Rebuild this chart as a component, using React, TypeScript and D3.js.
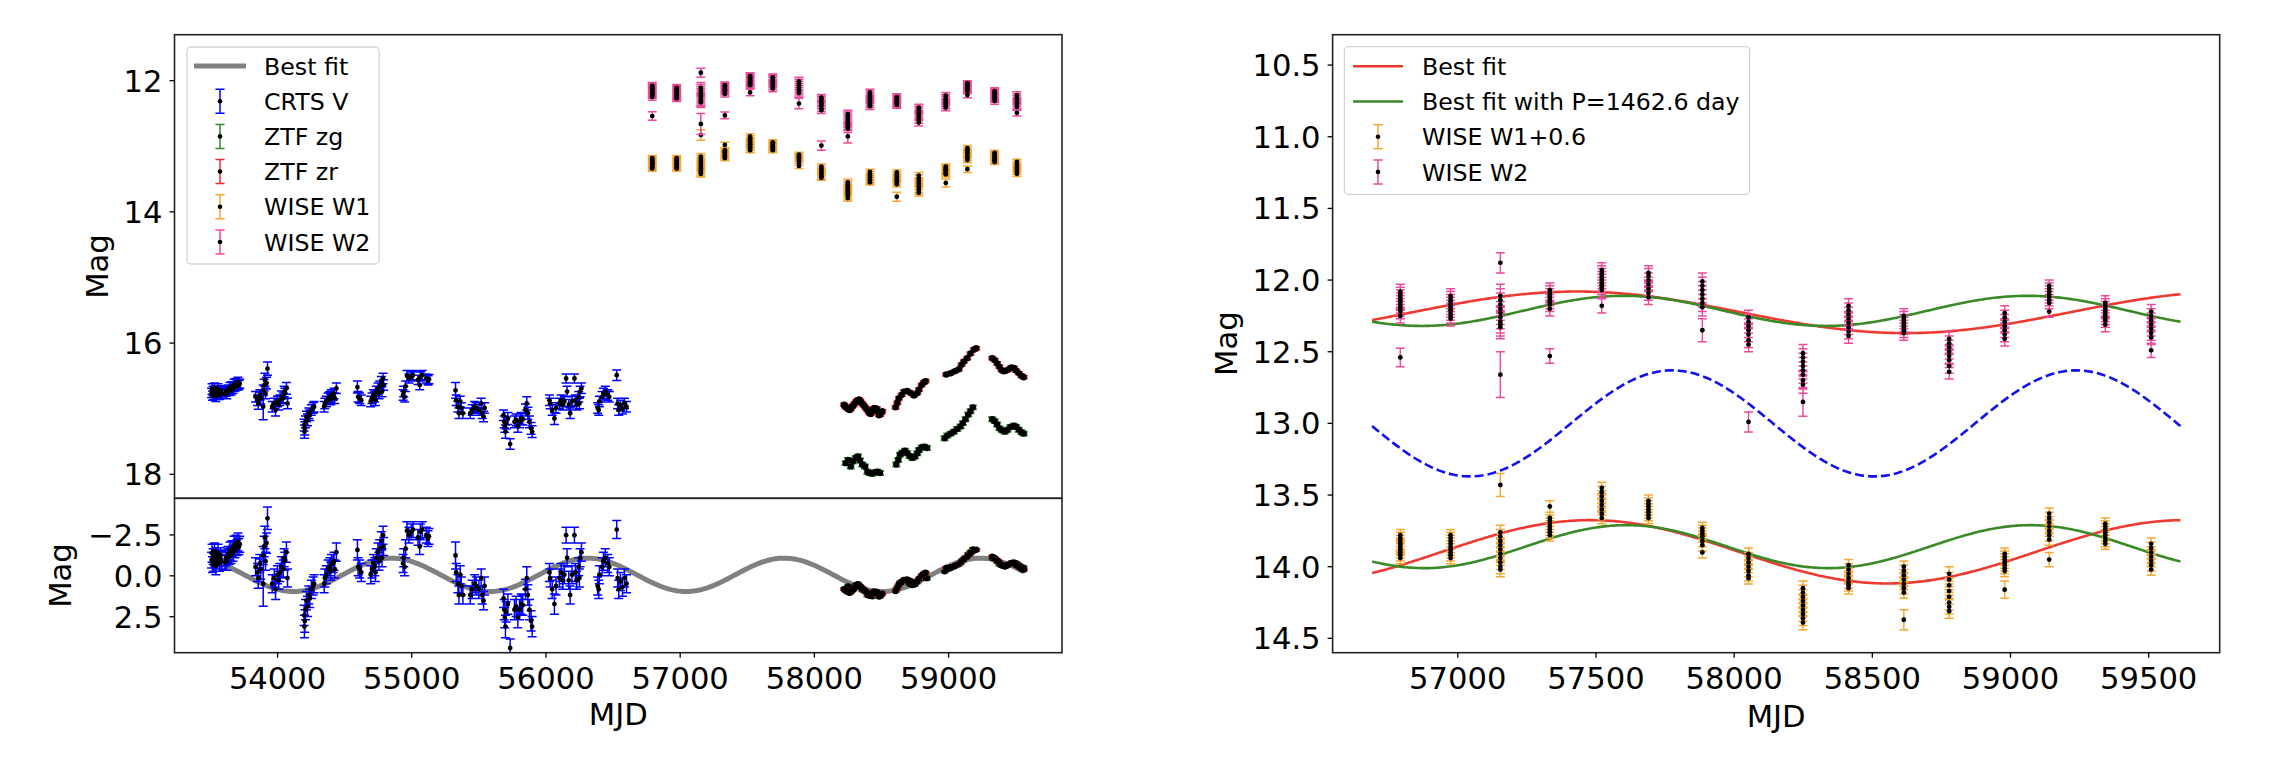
import React from "react";
import * as d3 from "d3";

type Pt = [number, number, number]; // MJD, mag, err
type Epoch = [number, number[], number]; // MJD, mags, err

// ---------------- DATA ----------------
const CRTS_V: Pt[] = [
  [53508,16.76,0.07],[53512,16.70,0.08],[53515,16.80,0.07],[53520,16.73,0.07],[53525,16.78,0.08],[53530,16.68,0.07],[53535,16.74,0.07],[53540,16.81,0.08],[53545,16.72,0.07],[53550,16.77,0.07],[53556,16.70,0.08],[53562,16.75,0.07],[53568,16.79,0.07],[53575,16.72,0.07],[53582,16.76,0.08],
  [53608,16.78,0.07],[53615,16.74,0.07],[53622,16.77,0.08],[53630,16.71,0.07],[53638,16.73,0.07],[53645,16.68,0.08],[53652,16.72,0.07],[53660,16.66,0.07],[53668,16.70,0.07],[53675,16.63,0.08],[53682,16.67,0.07],[53690,16.61,0.07],[53698,16.65,0.07],[53705,16.60,0.08],[53712,16.64,0.07],[53718,16.62,0.07],
  [53836,16.82,0.08],[53851,16.87,0.08],[53856,16.92,0.09],[53868,16.79,0.08],[53875,16.84,0.09],[53893,16.72,0.08],[53893,16.97,0.2],[53900,16.64,0.09],[53905,16.56,0.1],[53910,16.77,0.08],[53918,16.61,0.09],[53925,16.39,0.1],
  [53960,16.97,0.08],[53975,16.92,0.08],[53985,17.02,0.09],[53999,16.89,0.08],[54009,16.94,0.08],[54017,16.87,0.08],[54029,16.82,0.09],[54042,16.84,0.08],[54049,16.74,0.08],[54054,16.77,0.08],[54066,16.69,0.09],[54074,16.92,0.08],
  [54198,17.25,0.09],[54200,17.35,0.1],[54203,17.30,0.1],[54208,17.20,0.09],[54215,17.12,0.08],[54223,17.17,0.09],[54233,17.07,0.08],[54240,17.10,0.08],[54252,17.02,0.08],[54265,16.99,0.08],[54272,16.97,0.08],
  [54347,16.97,0.08],[54352,16.92,0.08],[54364,16.89,0.08],[54376,16.84,0.08],[54389,16.82,0.08],[54396,16.86,0.08],[54401,16.79,0.08],[54414,16.79,0.08],[54421,16.77,0.08],[54426,16.84,0.08],[54438,16.69,0.08],
  [54595,16.67,0.09],[54600,16.82,0.08],[54612,16.84,0.08],[54624,16.87,0.08],
  [54694,16.89,0.08],[54704,16.84,0.08],[54714,16.79,0.08],[54724,16.82,0.08],[54729,16.87,0.08],[54736,16.74,0.08],[54748,16.69,0.08],[54756,16.77,0.08],[54761,16.66,0.08],[54773,16.59,0.08],[54778,16.74,0.08],[54786,16.54,0.08],[54790,16.64,0.08],
  [54935,16.79,0.08],[54940,16.74,0.08],[54947,16.82,0.08],[54954,16.66,0.08],[54964,16.50,0.08],[54979,16.54,0.07],[54997,16.51,0.07],[55009,16.49,0.07],
  [55046,16.56,0.07],[55059,16.64,0.07],[55064,16.51,0.07],[55078,16.49,0.07],[55108,16.54,0.07],[55121,16.57,0.07],[55128,16.55,0.07],
  [55326,16.72,0.12],[55331,16.87,0.08],[55344,16.97,0.08],[55351,17.07,0.08],[55361,16.89,0.08],[55369,16.99,0.08],[55381,17.07,0.08],
  [55436,17.07,0.08],[55450,17.02,0.08],[55468,16.97,0.08],[55480,16.99,0.08],[55500,17.02,0.08],[55517,16.92,0.08],[55525,17.07,0.08],[55535,17.12,0.08],[55542,16.99,0.08],
  [55684,17.10,0.08],[55689,17.20,0.09],[55693,17.27,0.09],[55698,17.35,0.1],[55703,17.22,0.09],[55716,17.15,0.09],[55733,17.54,0.08],
  [55765,17.20,0.09],[55778,17.17,0.09],[55790,17.27,0.09],[55803,17.20,0.09],[55815,17.15,0.09],[55827,17.16,0.09],[55847,17.02,0.09],[55857,16.92,0.1],[55865,17.07,0.09],[55877,17.20,0.09],[55889,17.30,0.09],[55897,17.35,0.09],
  [56026,16.87,0.08],[56031,16.92,0.08],[56046,17.02,0.08],[56063,17.15,0.09],[56075,16.99,0.08],
  [56100,16.92,0.08],[56113,16.87,0.08],[56125,16.94,0.08],[56137,16.89,0.08],[56150,16.54,0.07],[56157,16.74,0.08],[56170,16.94,0.08],[56180,17.07,0.08],[56194,16.89,0.08],[56212,16.54,0.07],[56219,16.87,0.08],[56229,16.94,0.08],[56244,16.82,0.08],[56249,16.92,0.08],[56254,16.74,0.08],[56264,16.69,0.08],
  [56385,16.99,0.08],[56393,17.02,0.08],[56398,16.89,0.08],[56418,16.82,0.08],[56428,16.77,0.08],[56442,16.74,0.08],[56460,16.79,0.08],[56472,16.82,0.08],
  [56527,16.49,0.08],[56534,16.92,0.08],[56542,17.02,0.08],[56555,16.95,0.08],[56570,17.00,0.08],[56585,16.92,0.08],[56600,16.97,0.08],
];

const ZTF_ZG: Pt[] = [
  [58233,17.83,0.03],[58251,17.78,0.03],[58271,17.88,0.03],[58288,17.80,0.03],[58308,17.75,0.03],[58325,17.73,0.03],[58340,17.79,0.03],[58357,17.85,0.03],[58377,17.88,0.03],[58395,17.96,0.03],[58412,17.98,0.03],[58432,17.99,0.03],[58452,17.97,0.03],[58471,17.96,0.03],[58489,17.98,0.03],
  [58610,17.85,0.03],[58625,17.78,0.03],[58638,17.70,0.03],[58655,17.67,0.03],[58675,17.64,0.03],[58692,17.68,0.03],[58710,17.72,0.03],[58729,17.75,0.03],[58749,17.73,0.03],[58767,17.68,0.03],[58779,17.63,0.03],[58799,17.59,0.03],[58819,17.58,0.03],[58839,17.60,0.03],
  [58970,17.45,0.03],[58990,17.41,0.03],[59015,17.38,0.03],[59039,17.35,0.03],[59064,17.31,0.03],[59089,17.27,0.03],[59106,17.22,0.03],[59126,17.16,0.03],[59146,17.09,0.03],[59163,17.04,0.03],[59181,16.98,0.03],
  [59325,17.16,0.03],[59344,17.19,0.03],[59362,17.24,0.03],[59379,17.30,0.03],[59399,17.33,0.03],[59419,17.35,0.03],[59439,17.32,0.03],[59461,17.28,0.03],[59486,17.26,0.03],[59503,17.28,0.03],[59523,17.32,0.03],[59543,17.36,0.03],[59560,17.38,0.03],
];

const ZTF_ZR: Pt[] = [
  [58221,16.94,0.02],[58228,16.96,0.02],[58236,16.98,0.02],[58246,16.99,0.02],[58255,17.01,0.02],[58263,17.02,0.02],[58271,17.00,0.02],[58280,16.97,0.02],[58290,16.95,0.02],[58300,16.92,0.02],[58312,16.89,0.02],[58322,16.87,0.02],[58333,16.86,0.02],[58342,16.88,0.02],[58350,16.91,0.02],[58360,16.93,0.02],[58372,16.96,0.02],[58383,16.99,0.02],[58395,17.02,0.02],[58405,17.05,0.02],[58413,17.07,0.02],[58420,17.08,0.02],[58430,17.04,0.02],[58440,17.00,0.02],[58448,16.99,0.02],[58458,17.02,0.02],[58466,17.00,0.02],[58474,17.06,0.02],[58482,17.10,0.02],[58490,17.09,0.02],[58498,17.06,0.02],[58506,17.04,0.02],
  [58605,16.98,0.02],[58618,16.91,0.02],[58630,16.84,0.02],[58650,16.79,0.02],[58667,16.74,0.02],[58692,16.73,0.02],[58717,16.76,0.02],[58742,16.80,0.02],[58767,16.76,0.02],[58779,16.71,0.02],[58799,16.64,0.02],[58816,16.60,0.02],[58829,16.58,0.02],
  [58982,16.48,0.02],[59015,16.46,0.02],[59047,16.43,0.02],[59077,16.40,0.02],[59096,16.33,0.02],[59114,16.28,0.02],[59139,16.23,0.02],[59163,16.16,0.02],[59188,16.10,0.02],[59206,16.08,0.02],
  [59325,16.23,0.02],[59344,16.26,0.02],[59362,16.31,0.02],[59379,16.36,0.02],[59394,16.41,0.02],[59411,16.43,0.02],[59429,16.42,0.02],[59449,16.40,0.02],[59468,16.37,0.02],[59488,16.38,0.02],[59503,16.42,0.02],[59523,16.46,0.02],[59543,16.50,0.02],[59560,16.52,0.02],
];

// WISE W1 shown with +0.6 offset in the right panel (left panel shows W1 itself)
const W1_OFFSET = 0.6;
const WISE_W1P6: Epoch[] = [
  [56792,[13.78,13.80,13.82,13.84,13.85,13.87,13.88,13.90,13.92,13.94],0.04],
  [56974,[13.78,13.80,13.82,13.84,13.86,13.88,13.90,13.92,13.94],0.04],
  [57154,[13.76,13.79,13.82,13.85,13.88,13.91,13.94,13.97,14.00,14.02],0.05],
  [57333,[13.66,13.68,13.70,13.72,13.74,13.76,13.78],0.04],
  [57521,[13.45,13.48,13.51,13.54,13.57,13.60,13.63,13.66],0.04],
  [57690,[13.54,13.56,13.58,13.60,13.62,13.64,13.66],0.04],
  [57885,[13.73,13.75,13.77,13.79,13.82,13.85,13.90],0.04],
  [58052,[13.91,13.94,13.97,14.00,14.03,14.06,14.08],0.04],
  [58249,[14.15,14.18,14.21,14.24,14.27,14.30,14.33,14.36,14.39],0.05],
  [58414,[13.99,14.02,14.05,14.08,14.11,14.13,14.15],0.04],
  [58614,[14.00,14.03,14.06,14.09,14.12,14.15,14.18],0.04],
  [58778,[14.05,14.09,14.13,14.17,14.21,14.25,14.28,14.31],0.05],
  [58979,[13.91,13.93,13.95,13.97,13.99,14.01,14.03],0.04],
  [59140,[13.63,13.66,13.69,13.72,13.75,13.78,13.81],0.04],
  [59343,[13.70,13.72,13.74,13.76,13.78,13.80,13.82,13.84],0.04],
  [59509,[13.84,13.87,13.90,13.93,13.96,13.99,14.02],0.04],
];
const WISE_W1P6_OUT: Pt[] = [[57154,13.43,0.08],[57333,13.58,0.04],[58614,14.37,0.07],[58979,14.16,0.06],[59140,13.95,0.05]];

const WISE_W2: Epoch[] = [
  [56792,[12.08,12.10,12.12,12.14,12.16,12.18,12.20,12.22,12.25],0.05],
  [56974,[12.11,12.13,12.15,12.17,12.19,12.21,12.23,12.25,12.27],0.05],
  [57154,[12.11,12.14,12.17,12.20,12.23,12.26,12.29,12.31,12.33],0.08],
  [57333,[12.07,12.09,12.11,12.13,12.15,12.17,12.20],0.05],
  [57521,[11.93,11.95,11.97,11.99,12.01,12.03,12.05,12.07],0.05],
  [57690,[11.95,11.97,12.00,12.03,12.06,12.09,12.12],0.05],
  [57885,[12.01,12.04,12.07,12.10,12.13,12.16,12.19],0.06],
  [58052,[12.26,12.29,12.32,12.35,12.38,12.42,12.45],0.05],
  [58249,[12.51,12.54,12.57,12.60,12.63,12.66,12.70,12.73],0.06],
  [58414,[12.18,12.21,12.24,12.27,12.30,12.33,12.36,12.39],0.05],
  [58614,[12.25,12.27,12.29,12.31,12.33,12.35,12.37],0.05],
  [58778,[12.41,12.44,12.47,12.50,12.53,12.56,12.60,12.64],0.05],
  [58979,[12.23,12.26,12.29,12.32,12.35,12.38,12.41],0.05],
  [59140,[12.04,12.06,12.08,12.10,12.12,12.14,12.16],0.04],
  [59343,[12.16,12.18,12.20,12.22,12.24,12.26,12.28,12.31],0.05],
  [59509,[12.22,12.25,12.28,12.31,12.34,12.37,12.40],0.05],
];
const WISE_W2_OUT: Pt[] = [[56792,12.54,0.065],[57154,11.88,0.07],[57154,12.66,0.16],[57333,12.53,0.05],[57521,12.18,0.05],[57885,12.35,0.08],[58052,12.99,0.07],[58249,12.85,0.1],[59140,12.22,0.04],[59509,12.49,0.05]];

// normalization used in the lower-left panel: [mean, std]
const CRTS_NORM: [number, number] = [16.90, 0.145];
const ZG_NORM: [number, number] = [17.55, 0.352];
const ZR_NORM: [number, number] = [16.65, 0.357];

// sinusoidal fit parameters
const PERIOD = 1462.6;
// [center, amplitude, period, time of brightest, start, end]
const FIT_NORM: number[] = [-0.06, 1.02, PERIOD, 54850, 53590, 59560];
const FIT_DASH: number[] = [13.0, 0.37, PERIOD, 57775, 56690, 59615];
const FIT_W2_RED: number[] = [12.225, 0.145, 2380, 57430, 56690, 59615];
const FIT_W1_RED: number[] = [13.896, 0.221, 2150, 57480, 56690, 59615];
const FIT_W2_GREEN: number[] = [12.215, 0.105, PERIOD, 57600, 56690, 59615];
const FIT_W1_GREEN: number[] = [13.86, 0.15, PERIOD, 57610, 56690, 59615];

const X_TICKS_L = [54000, 55000, 56000, 57000, 58000, 59000];
const Y_TICKS_LT = [12, 14, 16, 18];
const Y_TICKS_LB = [-2.5, 0, 2.5];
const X_TICKS_R = [57000, 57500, 58000, 58500, 59000, 59500];
const Y_TICKS_R = [10.5, 11.0, 11.5, 12.0, 12.5, 13.0, 13.5, 14.0, 14.5];

// ---------------- STYLE ----------------
const FONT = "DejaVu Sans, Liberation Sans, sans-serif";
const FS = 30.6;
const LFS = 23.7;
const C_CRTS = "#0000ff";
const C_ZG = "#2e8b2e";
const C_ZR = "#f03030";
const C_W1 = "#f5a733";
const C_W2 = "#ec4a9c";
const C_RED = "#ee3a30";
const C_GREEN = "#3a8a28";

const L = { x0: 174.5, x1: 1062, y0: 34.7, ys: 498.3, y1: 652.7 };
const R = { x0: 1332.6, x1: 2219.7, y0: 34.7, y1: 652.7 };

const xL = d3.scaleLinear().domain([53232, 59845]).range([L.x0, L.x1]);
const yLT = d3.scaleLinear().domain([11.30, 18.366]).range([L.y0, L.ys]);
const yLB = d3.scaleLinear().domain([-4.74, 4.70]).range([L.ys, L.y1]);
const xR = d3.scaleLinear().domain([56547, 59757]).range([R.x0, R.x1]);
const yR = d3.scaleLinear().domain([10.288, 14.60]).range([R.y0, R.y1]);

const expand = (eps: Epoch[], shift = 0): Pt[] =>
  eps.flatMap(([t, ms, e]) => ms.map((m) => [t, m - shift, e] as Pt));
const shiftPts = (pts: Pt[], shift: number): Pt[] => pts.map(([t, m, e]) => [t, m - shift, e] as Pt);
const normPts = (pts: Pt[], n: [number, number]): Pt[] =>
  pts.map(([t, m, e]) => [t, (m - n[0]) / n[1], e / n[1]] as Pt);

function fitCurve(p: number[]): [number, number][] {
  const [c, a, per, tmax, t0, t1] = p;
  return d3.range(t0, t1 + 1e-6, (t1 - t0) / 400).map((t) => [t, c - a * Math.cos((2 * Math.PI * (t - tmax)) / per)] as [number, number]);
}

type Sc = d3.ScaleLinear<number, number>;

function ErrSeries({ pts, x, y, color, cap = 4.5, r = 2.4, lw = 1.5 }: { pts: Pt[]; x: Sc; y: Sc; color: string; cap?: number; r?: number; lw?: number }) {
  const d = pts
    .map(([t, m, e]) => {
      const X = x(t), a = y(m - e), b = y(m + e);
      return `M${X},${a}V${b}M${X - cap},${a}H${X + cap}M${X - cap},${b}H${X + cap}`;
    })
    .join("");
  return (
    <g>
      <path d={d} stroke={color} strokeWidth={lw} fill="none" />
      {pts.map(([t, m], i) => (
        <circle key={i} cx={x(t)} cy={y(m)} r={r} fill="#000" />
      ))}
    </g>
  );
}

function Curve({ p, x, y, color, w, dash }: { p: number[]; x: Sc; y: Sc; color: string; w: number; dash?: string }) {
  const line = d3.line<[number, number]>().x((d) => x(d[0])).y((d) => y(d[1]));
  return <path d={line(fitCurve(p)) || ""} stroke={color} strokeWidth={w} fill="none" strokeDasharray={dash} />;
}

function YAxis({ x0, y, ticks, fmt }: { x0: number; y: Sc; ticks: number[]; fmt: (v: number) => string }) {
  return (
    <g>
      {ticks.map((v) => (
        <g key={v}>
          <line x1={x0 - 5} x2={x0} y1={y(v)} y2={y(v)} stroke="#000" strokeWidth={1.3} />
          <text x={x0 - 12} y={y(v)} dy="0.36em" textAnchor="end" fontSize={FS} fontFamily={FONT}>
            {fmt(v)}
          </text>
        </g>
      ))}
    </g>
  );
}

function XAxis({ y0, x, ticks }: { y0: number; x: Sc; ticks: number[] }) {
  return (
    <g>
      {ticks.map((v) => (
        <g key={v}>
          <line x1={x(v)} x2={x(v)} y1={y0} y2={y0 + 5} stroke="#000" strokeWidth={1.3} />
          <text x={x(v)} y={y0 + 36.5} textAnchor="middle" fontSize={FS} fontFamily={FONT}>
            {v}
          </text>
        </g>
      ))}
    </g>
  );
}

function ErrHandle({ cx, cy, color }: { cx: number; cy: number; color: string }) {
  return (
    <g>
      <path d={`M${cx},${cy - 12}V${cy + 12}M${cx - 4.6},${cy - 12}H${cx + 4.6}M${cx - 4.6},${cy + 12}H${cx + 4.6}`} stroke={color} strokeWidth={1.5} fill="none" />
      <circle cx={cx} cy={cy} r={2.3} fill="#000" />
    </g>
  );
}

const fmtMinus = (v: number) => (v < 0 ? "\u2212" : "") + Math.abs(v).toFixed(1);

export default function App() {
  const crtsN = normPts(CRTS_V, CRTS_NORM);
  const zgN = normPts(ZTF_ZG, ZG_NORM);
  const zrN = normPts(ZTF_ZR, ZR_NORM);
  const w1Left = [...expand(WISE_W1P6, W1_OFFSET), ...shiftPts(WISE_W1P6_OUT, W1_OFFSET)];
  const w1Right = [...expand(WISE_W1P6), ...WISE_W1P6_OUT];
  const w2 = [...expand(WISE_W2), ...WISE_W2_OUT];

  const legL = [
    { label: "Best fit", kind: "line", color: "#808080", w: 5 },
    { label: "CRTS V", kind: "err", color: C_CRTS },
    { label: "ZTF zg", kind: "err", color: C_ZG },
    { label: "ZTF zr", kind: "err", color: C_ZR },
    { label: "WISE W1", kind: "err", color: C_W1 },
    { label: "WISE W2", kind: "err", color: C_W2 },
  ];
  const legR = [
    { label: "Best fit", kind: "line", color: C_RED, w: 2.6 },
    { label: "Best fit with P=1462.6 day", kind: "line", color: C_GREEN, w: 2.6 },
    { label: "WISE W1+0.6", kind: "err", color: C_W1 },
    { label: "WISE W2", kind: "err", color: C_W2 },
  ];

  const renderLegend = (items: any[], bx: number, by: number, bw: number, bh: number, hx0: number, hx1: number, tx: number, y0: number) => (
    <g>
      <rect x={bx} y={by} width={bw} height={bh} rx={4} fill="#fff" fillOpacity={0.8} stroke="#d4d4d4" strokeWidth={1.3} />
      {items.map((it, i) => {
        const cy = y0 + i * 35.2;
        return (
          <g key={i}>
            {it.kind === "line" ? (
              <line x1={hx0} x2={hx1} y1={cy} y2={cy} stroke={it.color} strokeWidth={it.w} />
            ) : (
              <ErrHandle cx={(hx0 + hx1) / 2} cy={cy} color={it.color} />
            )}
            <text x={tx} y={cy + 8.6} fontSize={LFS} fontFamily={FONT}>
              {it.label}
            </text>
          </g>
        );
      })}
    </g>
  );

  return (
    <svg width={2278} height={770} style={{ position: "absolute", left: 0, top: 0, background: "#fff" }}>
      <defs>
        <clipPath id="cLT"><rect x={L.x0} y={L.y0} width={L.x1 - L.x0} height={L.ys - L.y0} /></clipPath>
        <clipPath id="cLB"><rect x={L.x0} y={L.ys} width={L.x1 - L.x0} height={L.y1 - L.ys} /></clipPath>
        <clipPath id="cR"><rect x={R.x0} y={R.y0} width={R.x1 - R.x0} height={R.y1 - R.y0} /></clipPath>
      </defs>
      <rect x={0} y={0} width={2278} height={770} fill="#fff" />

      {/* Left top panel */}
      <g clipPath="url(#cLT)">
        <ErrSeries pts={CRTS_V} x={xL} y={yLT} color={C_CRTS} />
        <ErrSeries pts={ZTF_ZG} x={xL} y={yLT} color={C_ZG} r={3.2} cap={4} lw={2} />
        <ErrSeries pts={ZTF_ZR} x={xL} y={yLT} color={C_ZR} r={3.2} cap={4} lw={2} />
        <ErrSeries pts={w1Left} x={xL} y={yLT} color={C_W1} />
        <ErrSeries pts={w2} x={xL} y={yLT} color={C_W2} />
      </g>
      {/* Left bottom panel */}
      <g clipPath="url(#cLB)">
        <Curve p={FIT_NORM} x={xL} y={yLB} color="#808080" w={5} />
        <ErrSeries pts={crtsN} x={xL} y={yLB} color={C_CRTS} />
        <ErrSeries pts={zgN} x={xL} y={yLB} color={C_ZG} r={3.2} cap={4} lw={2} />
        <ErrSeries pts={zrN} x={xL} y={yLB} color={C_ZR} r={3.2} cap={4} lw={2} />
      </g>
      <rect x={L.x0} y={L.y0} width={L.x1 - L.x0} height={L.ys - L.y0} fill="none" stroke="#222" strokeWidth={1.6} />
      <rect x={L.x0} y={L.ys} width={L.x1 - L.x0} height={L.y1 - L.ys} fill="none" stroke="#222" strokeWidth={1.6} />
      <YAxis x0={L.x0} y={yLT} ticks={Y_TICKS_LT} fmt={(v) => String(v)} />
      <YAxis x0={L.x0} y={yLB} ticks={Y_TICKS_LB} fmt={fmtMinus} />
      <XAxis y0={L.y1} x={xL} ticks={X_TICKS_L} />
      <text transform={`translate(108.3,${(L.y0 + L.ys) / 2}) rotate(-90)`} textAnchor="middle" fontSize={FS} fontFamily={FONT}>Mag</text>
      <text transform={`translate(70.8,${(L.ys + L.y1) / 2}) rotate(-90)`} textAnchor="middle" fontSize={FS} fontFamily={FONT}>Mag</text>
      <text x={(L.x0 + L.x1) / 2} y={725} textAnchor="middle" fontSize={FS} fontFamily={FONT}>MJD</text>
      {renderLegend(legL, 187, 47, 192, 217, 194, 246, 264, 66)}

      {/* Right panel */}
      <g clipPath="url(#cR)">
        <Curve p={FIT_W2_RED} x={xR} y={yR} color={C_RED} w={2.6} />
        <Curve p={FIT_W2_GREEN} x={xR} y={yR} color={C_GREEN} w={2.6} />
        <Curve p={FIT_DASH} x={xR} y={yR} color="#1010f0" w={2.6} dash="9 4" />
        <Curve p={FIT_W1_RED} x={xR} y={yR} color={C_RED} w={2.6} />
        <Curve p={FIT_W1_GREEN} x={xR} y={yR} color={C_GREEN} w={2.6} />
        <ErrSeries pts={w1Right} x={xR} y={yR} color={C_W1} />
        <ErrSeries pts={w2} x={xR} y={yR} color={C_W2} />
      </g>
      <rect x={R.x0} y={R.y0} width={R.x1 - R.x0} height={R.y1 - R.y0} fill="none" stroke="#222" strokeWidth={1.6} />
      <YAxis x0={R.x0} y={yR} ticks={Y_TICKS_R} fmt={(v) => v.toFixed(1)} />
      <XAxis y0={R.y1} x={xR} ticks={X_TICKS_R} />
      <text transform={`translate(1237,${(R.y0 + R.y1) / 2}) rotate(-90)`} textAnchor="middle" fontSize={FS} fontFamily={FONT}>Mag</text>
      <text x={(R.x0 + R.x1) / 2} y={727} textAnchor="middle" fontSize={FS} fontFamily={FONT}>MJD</text>
      {renderLegend(legR, 1344.4, 46.7, 405.2, 147.6, 1353, 1403, 1422, 66.3)}
    </svg>
  );
}
